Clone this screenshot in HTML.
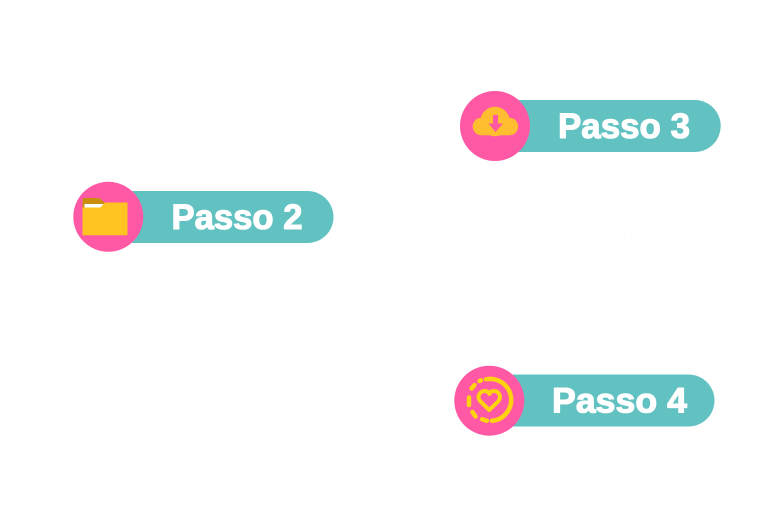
<!DOCTYPE html>
<html lang="pt"><head><meta charset="utf-8"><style>
html,body{margin:0;padding:0;background:#fff}
svg{display:block}
.g{font:500 25px "Liberation Sans",sans-serif;fill:#fefefe}
.b{fill:none;stroke:#fefefe;stroke-width:1}
.p{font:bold 35px "Liberation Sans",sans-serif;fill:#fff;stroke:#fff;stroke-width:1.1}
</style></head><body>
<svg width="768" height="512" viewBox="0 0 768 512" xmlns="http://www.w3.org/2000/svg">
<rect width="768" height="512" fill="#fff"/>
<path class="b" d="M31 0V110Q31 141 62 141H345Q376 141 376 110V0"/>
<text class="g" x="60" y="21" textLength="180" lengthAdjust="spacingAndGlyphs">Acesse o canal</text>
<text class="g" x="60" y="54" textLength="288" lengthAdjust="spacingAndGlyphs">exclusivo no Telegram</text>
<text class="g" x="60" y="89" textLength="230" lengthAdjust="spacingAndGlyphs">onde são fornecidos</text>
<text class="g" x="60" y="122" textLength="218" lengthAdjust="spacingAndGlyphs">todos os exclusivos.</text>
<rect class="b" x="36" y="210" width="345" height="195" rx="26"/>
<text class="g" x="88" y="301" textLength="214" lengthAdjust="spacingAndGlyphs">Explore as pastas</text>
<text class="g" x="88" y="335" textLength="174" lengthAdjust="spacingAndGlyphs">temáticas por</text>
<text class="g" x="88" y="369" textLength="195" lengthAdjust="spacingAndGlyphs">nicho exclusivo.</text>
<rect class="b" x="420" y="125" width="326" height="192" rx="26"/>
<text class="g" x="461" y="208" textLength="176" lengthAdjust="spacingAndGlyphs">Copie e Cole /</text>
<text class="g" x="461" y="243" textLength="244" lengthAdjust="spacingAndGlyphs">Baixe os conteúdos</text>
<text class="g" x="461" y="277" textLength="104" lengthAdjust="spacingAndGlyphs">favoritos</text>
<rect class="b" x="420" y="400" width="326" height="130" rx="26"/>
<text class="g" x="445" y="497" textLength="258" lengthAdjust="spacingAndGlyphs">Use nos seus stories</text>

<rect x="100" y="191" width="233.500" height="52" rx="26" fill="#62c2c1"/>
<circle cx="108.300" cy="216.800" r="35" fill="#ff59a5"/>
<path d="M82.500 210V200Q82.500 198 84.500 198H99.500L105.500 203.500L103 208H82.500Z" fill="#c98e10"/>
<path d="M84.500 204H104L100.500 207.500H84.500Z" fill="#fff"/>
<path d="M82.500 235.300V207.500H100.500L105 202.500H127.500V235.300Z" fill="#ffc421"/>
<text class="p" x="171.500" y="229" textLength="131" lengthAdjust="spacingAndGlyphs">Passo 2</text>

<rect x="487" y="100" width="233.700" height="52" rx="26" fill="#62c2c1"/>
<circle cx="495" cy="126" r="35" fill="#ff59a5"/>
<g fill="#ffbd30"><circle cx="495" cy="121.500" r="14.800"/><circle cx="481.500" cy="126.500" r="8.800"/><circle cx="509.300" cy="126.500" r="8.800"/><rect x="481.500" y="120" width="28" height="15.300"/></g>
<path d="M493 115H498V123.500H503L495.500 132L488.500 123.500H493Z" fill="#ff59a5"/>
<text class="p" x="558" y="138" textLength="132" lengthAdjust="spacingAndGlyphs">Passo 3</text>

<rect x="481" y="374.500" width="233.500" height="52" rx="26" fill="#62c2c1"/>
<circle cx="489.300" cy="400.700" r="35" fill="#ff59a5"/>
<path d="M486 379.300A21 21 0 1 1 492 420.800" fill="none" stroke="#ffd40f" stroke-width="4.500" stroke-linecap="round"/>
<path d="M487 420.800L482 419.200M475.500 416.500L472.500 412M469 405V397.500M471.500 388.500L474.500 385M479.500 381L481 380.300" fill="none" stroke="#ffd40f" stroke-width="4.500" stroke-linecap="round"/>
<path d="M489.300 410L480.500 401.500Q477.500 398 479 394.800Q481 391 485 391Q488 391 489.300 394Q490.800 391 493.800 391Q498 391 499.500 394.800Q501 398 498 401.500Z" fill="none" stroke="#ffd40f" stroke-width="4" stroke-linejoin="round"/>
<text class="p" x="552" y="412.500" textLength="135" lengthAdjust="spacingAndGlyphs">Passo 4</text>
</svg>
</body></html>
